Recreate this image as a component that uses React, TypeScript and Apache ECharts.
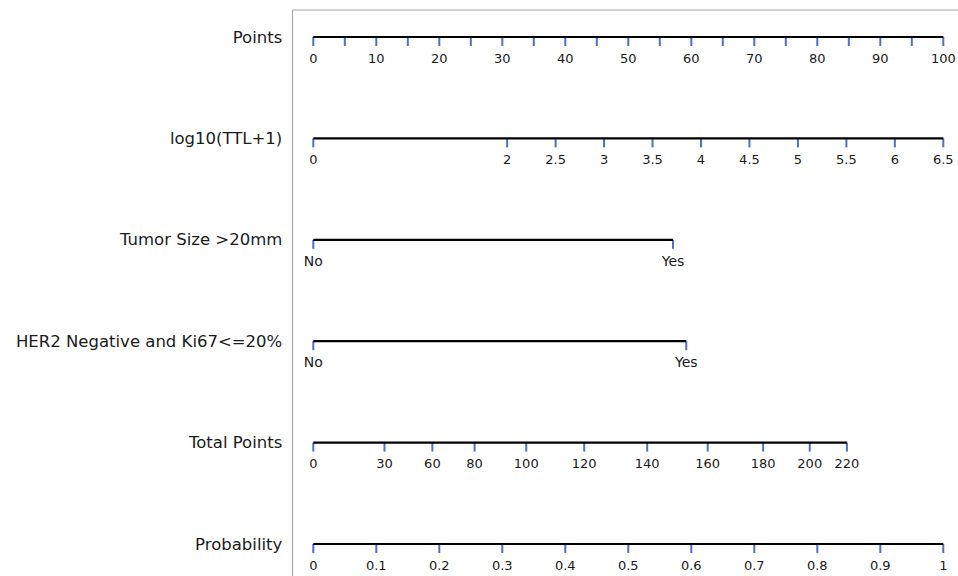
import React, { useEffect, useRef } from "react";
import * as echarts from "echarts";

// ---- data (positions on the 0-100 "Points" scale) ----
const rowNames = [
  "Points",
  "log10(TTL+1)",
  "Tumor Size >20mm",
  "HER2 Negative and Ki67<=20%",
  "Total Points",
  "Probability",
];

const pointsTicks = [0, 5, 10, 15, 20, 25, 30, 35, 40, 45, 50, 55, 60, 65, 70, 75, 80, 85, 90, 95, 100];
const pointsLabels = ["0", "", "10", "", "20", "", "30", "", "40", "", "50", "", "60", "", "70", "", "80", "", "90", "", "100"];

const ttlValues = [0, 2, 2.5, 3, 3.5, 4, 4.5, 5, 5.5, 6, 6.5];
const ttlLabels = ["0", "2", "2.5", "3", "3.5", "4", "4.5", "5", "5.5", "6", "6.5"];
const ttlMax = 6.5;

const tumorLevels = ["No", "Yes"];
const tumorPoints = [0, 57.1];

const her2Levels = ["No", "Yes"];
const her2Points = [0, 59.2];

const totalPointsLabels = ["0", "30", "60", "80", "100", "120", "140", "160", "180", "200", "220"];
const totalPointsPos = [0, 11.3, 18.9, 25.6, 33.8, 43.0, 53.0, 62.6, 71.4, 78.8, 84.7];

const probValues = [0, 0.1, 0.2, 0.3, 0.4, 0.5, 0.6, 0.7, 0.8, 0.9, 1];
const probLabels = ["0", "0.1", "0.2", "0.3", "0.4", "0.5", "0.6", "0.7", "0.8", "0.9", "1"];

const lineYs = [37, 138.4, 239.8, 341.2, 442.6, 544];

const FONT = "DejaVu Sans";
const TICK_COLOR = "#4a70c8";
const TEXT_COLOR = "#1a1a1a";

export default function App() {
  const ref = useRef<HTMLDivElement>(null);

  useEffect(() => {
    if (!ref.current) return;
    const chart = echarts.init(ref.current, undefined, { renderer: "svg" });

    const rows: { pos: number[]; labels: string[]; fontSize: number }[] = [
      { pos: pointsTicks, labels: pointsLabels, fontSize: 13 },
      { pos: ttlValues.map((v) => (v / ttlMax) * 100), labels: ttlLabels, fontSize: 13 },
      { pos: tumorPoints, labels: tumorLevels, fontSize: 14 },
      { pos: her2Points, labels: her2Levels, fontSize: 14 },
      { pos: totalPointsPos, labels: totalPointsLabels, fontSize: 13 },
      { pos: probValues.map((v) => v * 100), labels: probLabels, fontSize: 13 },
    ];

    const grids: any[] = [];
    const xAxes: any[] = [];
    const yAxes: any[] = [];
    const series: any[] = [];

    rows.forEach((row, i) => {
      grids.push({ left: 313.3, width: 630, top: lineYs[i] - 20, height: 40 });
      xAxes.push({ type: "value", gridIndex: i, min: 0, max: 100, show: false });
      yAxes.push({
        type: "category",
        gridIndex: i,
        data: [rowNames[i]],
        axisLine: { show: false },
        axisTick: { show: false },
        splitLine: { show: false },
        axisLabel: {
          margin: 31,
          fontSize: 16.5,
          fontFamily: FONT,
          color: TEXT_COLOR,
        },
      });
      const labels = row.labels;
      const fs = row.fontSize;
      series.push({
        type: "custom",
        xAxisIndex: i,
        yAxisIndex: i,
        silent: true,
        z: 2,
        data: row.pos.map((p) => [p, 0]),
        renderItem: (params: any, api: any) => {
          const c = api.coord([api.value(0), 0]);
          return {
            type: "group",
            children: [
              {
                type: "line",
                shape: { x1: c[0], y1: c[1], x2: c[0], y2: c[1] + 9 },
                style: { stroke: TICK_COLOR, lineWidth: 2 },
              },
              {
                type: "text",
                x: c[0],
                y: c[1] + 21,
                style: {
                  text: labels[params.dataIndex],
                  align: "center",
                  verticalAlign: "middle",
                  fontSize: fs,
                  fontFamily: FONT,
                  fill: TEXT_COLOR,
                },
              },
            ],
          };
        },
      });
      series.push({
        type: "line",
        xAxisIndex: i,
        yAxisIndex: i,
        silent: true,
        z: 3,
        symbol: "none",
        data: [
          [row.pos[0], 0],
          [row.pos[row.pos.length - 1], 0],
        ],
        lineStyle: { color: "#000", width: 2.2, cap: "butt" },
      });
    });

    chart.setOption({
      animation: false,
      backgroundColor: "#ffffff",
      grid: grids,
      xAxis: xAxes,
      yAxis: yAxes,
      series,
      graphic: [
        {
          type: "line",
          shape: { x1: 292.5, y1: 10, x2: 958, y2: 10 },
          style: { stroke: "#a8a8a8", lineWidth: 1.2 },
          silent: true,
        },
        {
          type: "line",
          shape: { x1: 292.5, y1: 10, x2: 292.5, y2: 576 },
          style: { stroke: "#a8a8a8", lineWidth: 1.2 },
          silent: true,
        },
      ],
    });

    return () => chart.dispose();
  }, []);

  return (
    <div
      ref={ref}
      style={{ position: "absolute", left: 0, top: 0, width: 958, height: 576 }}
    />
  );
}
